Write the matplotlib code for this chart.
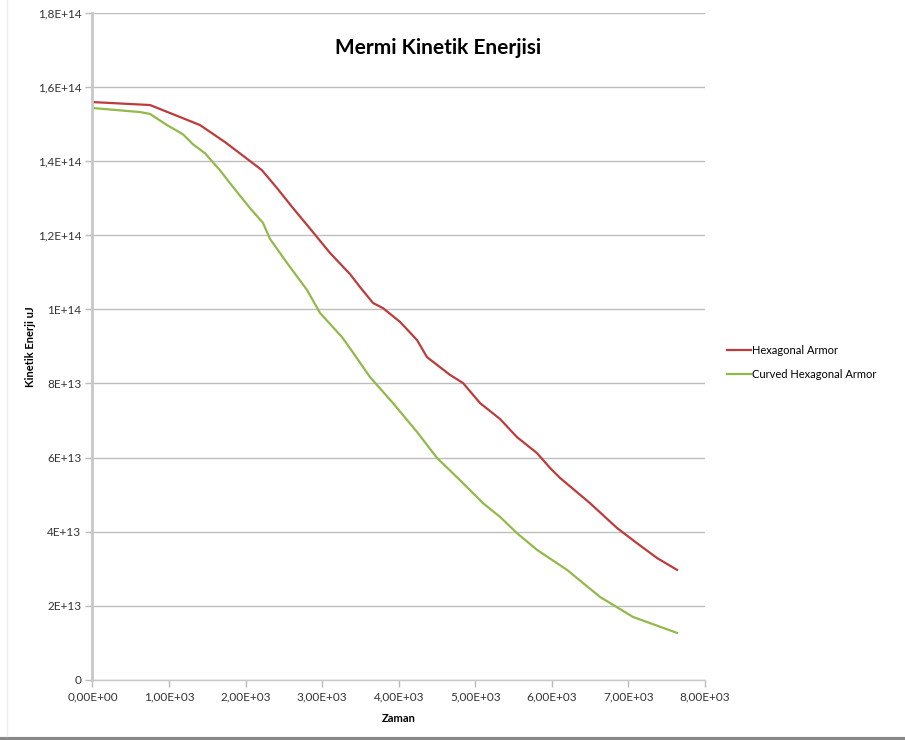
import matplotlib
matplotlib.use('Agg')
import matplotlib.pyplot as plt
from matplotlib.lines import Line2D

plt.rcParams['font.family'] = ['Lato', 'DejaVu Sans']

# zaman ve kinetik enerji (x1e13 uJ) okumalari
zaman_hex = [0, 751, 1078, 1404, 1731, 2057, 2214, 2410, 2619, 2880, 3102, 3363, 3494,
             3664, 3795, 4017, 4239, 4369, 4670, 4840, 5062, 5323, 5545, 5806, 5976,
             6107, 6498, 6851, 7112, 7374, 7635]
enerji_hex = [15.59, 15.51, 15.24, 14.97, 14.51, 14.00, 13.75, 13.27, 12.73, 12.08, 11.52,
              10.95, 10.60, 10.17, 10.03, 9.66, 9.17, 8.71, 8.23, 8.01, 7.47, 7.04, 6.55,
              6.12, 5.72, 5.45, 4.77, 4.10, 3.69, 3.29, 2.97]

zaman_curved = [0, 620, 751, 973, 1182, 1313, 1469, 1665, 1835, 2057, 2227, 2318, 2541,
                2802, 2972, 3259, 3363, 3625, 3925, 4239, 4500, 4800, 5101, 5323, 5545,
                5806, 6198, 6629, 7060, 7635]
enerji_curved = [15.43, 15.32, 15.27, 14.97, 14.72, 14.45, 14.21, 13.75, 13.30, 12.73,
                 12.33, 11.90, 11.25, 10.52, 9.90, 9.25, 8.95, 8.17, 7.47, 6.69, 5.99,
                 5.39, 4.77, 4.40, 3.96, 3.51, 2.97, 2.24, 1.70, 1.27]

y_ticks = [0, 2e13, 4e13, 6e13, 8e13, 1e14, 1.2e14, 1.4e14, 1.6e14, 1.8e14]
y_labels = ['0', '2E+13', '4E+13', '6E+13', '8E+13', '1E+14', '1,2E+14', '1,4E+14',
            '1,6E+14', '1,8E+14']
x_ticks = [0, 1000, 2000, 3000, 4000, 5000, 6000, 7000, 8000]
x_labels = ['0,00E+00', '1,00E+03', '2,00E+03', '3,00E+03', '4,00E+03', '5,00E+03',
            '6,00E+03', '7,00E+03', '8,00E+03']

fig = plt.figure(figsize=(9.05, 7.4), dpi=100)
ax = fig.add_axes([0.1022, 0.0811, 0.6768, 0.9017])

ax.plot(zaman_hex, [v * 1e13 for v in enerji_hex], color='#BE3B3B', lw=1.6,
        label='Hexagonal Armor')
ax.plot(zaman_curved, [v * 1e13 for v in enerji_curved], color='#93B94A', lw=1.6,
        label='Curved Hexagonal Armor')

ax.set_xlim(0, 8000)
ax.set_ylim(0, 1.8e14)
ax.set_yticks(y_ticks)
ax.set_yticklabels(y_labels)
ax.set_xticks(x_ticks)
ax.set_xticklabels(x_labels)
ax.tick_params(axis='both', labelsize=8.5, colors='#BBBBBB', labelcolor='#333333',
               length=5, width=1)
ax.tick_params(axis='y', pad=3)

ax.grid(axis='y', color='#BEBEBE', lw=1)
ax.set_axisbelow(True)
for s in ['top', 'right']:
    ax.spines[s].set_visible(False)
ax.spines['left'].set_color('#C8C8C8')
ax.spines['left'].set_linewidth(2)
ax.spines['bottom'].set_color('#C8C8C8')
ax.spines['bottom'].set_linewidth(1)

ax.set_xlabel('Zaman', fontsize=8, fontweight='bold', labelpad=7)
ax.set_ylabel('Kinetik Enerji uJ', fontsize=8, fontweight='bold', labelpad=1)
fig.text(0.484, 0.935, 'Mermi Kinetik Enerjisi', fontsize=15, fontweight='bold',
         ha='center', va='center')

fig.legend(loc='center left', bbox_to_anchor=(0.792, 0.51), frameon=False,
           fontsize=8, handlelength=2.2, handletextpad=0.1, labelspacing=1.15)

# cerceve cizgileri
fig.add_artist(Line2D([0, 1], [0.002, 0.002], color='#888888', lw=3,
                      transform=fig.transFigure))
fig.add_artist(Line2D([0.008, 0.008], [0.005, 1], color='#EEEEEE', lw=1,
                      transform=fig.transFigure))

plt.savefig('out.png', dpi=100)
plt.close()
